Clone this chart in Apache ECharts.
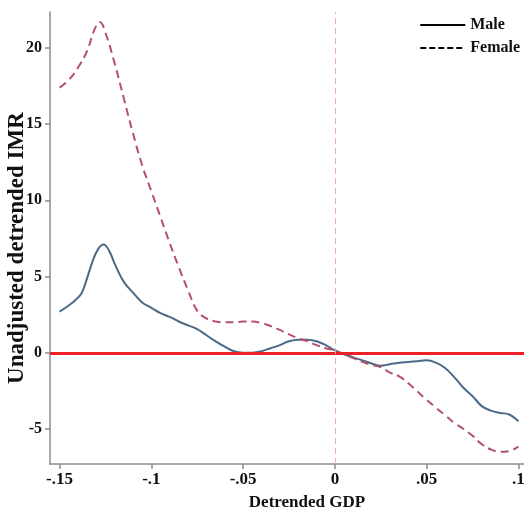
<!DOCTYPE html>
<html>
<head>
<meta charset="utf-8">
<script src="https://cdn.jsdelivr.net/npm/echarts@6/dist/echarts.min.js"></script>
<style>
  html, body { margin: 0; padding: 0; background: #fff; }
  #chart { width: 524px; height: 523px; }
</style>
</head>
<body>
<div id="chart"></div>
<script>
// 数据
var maleX = [-0.150, -0.145, -0.141, -0.138, -0.135, -0.132, -0.129, -0.126, -0.123, -0.120,
             -0.115, -0.110, -0.105, -0.100, -0.095, -0.090, -0.085, -0.080, -0.075, -0.070,
             -0.065, -0.060, -0.055, -0.050, -0.045, -0.040, -0.035, -0.030, -0.025, -0.020,
             -0.015, -0.010, -0.005, 0.000, 0.005, 0.010, 0.015, 0.020, 0.025, 0.030,
             0.035, 0.040, 0.045, 0.050, 0.055, 0.060, 0.065, 0.070, 0.075, 0.080,
             0.085, 0.090, 0.095, 0.100];
var maleY = [2.7, 3.1, 3.5, 3.9, 4.9, 6.0, 6.8, 7.1, 6.7, 5.85,
             4.65, 3.95, 3.3, 2.95, 2.6, 2.35, 2.05, 1.8, 1.55, 1.15,
             0.75, 0.4, 0.1, 0.0, 0.0, 0.1, 0.3, 0.5, 0.75, 0.85,
             0.85, 0.75, 0.5, 0.15, -0.1, -0.3, -0.5, -0.7, -0.85, -0.75,
             -0.65, -0.6, -0.55, -0.5, -0.65, -1.0, -1.6, -2.3, -2.85, -3.5,
             -3.8, -3.95, -4.05, -4.5];

var femaleX = [-0.150, -0.145, -0.140, -0.135, -0.131, -0.128, -0.125, -0.120, -0.115, -0.110,
               -0.105, -0.100, -0.095, -0.090, -0.085, -0.080, -0.075, -0.070, -0.065, -0.060,
               -0.055, -0.050, -0.045, -0.040, -0.035, -0.030, -0.025, -0.020, -0.015, -0.010,
               -0.005, 0.000, 0.005, 0.010, 0.015, 0.020, 0.025, 0.030, 0.035, 0.040,
               0.045, 0.050, 0.055, 0.060, 0.065, 0.070, 0.075, 0.080, 0.085, 0.090,
               0.095, 0.100];
var femaleY = [17.4, 17.9, 18.7, 19.8, 21.2, 21.7, 21.0, 19.0, 16.7, 14.4,
               12.3, 10.6, 8.9, 7.2, 5.6, 4.1, 2.75, 2.25, 2.05, 2.0,
               2.0, 2.05, 2.05, 1.95, 1.75, 1.5, 1.2, 0.95, 0.75, 0.5,
               0.3, 0.15, -0.1, -0.35, -0.6, -0.8, -0.95, -1.3, -1.55, -2.0,
               -2.55, -3.1, -3.6, -4.1, -4.6, -5.0, -5.45, -6.0, -6.35, -6.5,
               -6.45, -6.15];

var xTicks = [-0.15, -0.1, -0.05, 0, 0.05, 0.1];
var yTicks = [-5, 0, 5, 10, 15, 20];

function pairs(xs, ys) {
    return xs.map(function (x, i) { return [x, ys[i]]; });
}

var font = 'Liberation Serif';
var axisGray = '#8c8c8c';
var noDot = { color: 'rgba(0,0,0,0)', borderWidth: 0, opacity: 0 };

var chart = echarts.init(document.getElementById('chart'));

var option = {
    animation: false,
    backgroundColor: '#fff',
    grid: { left: 50, right: 0, top: 12, bottom: 59, outerBoundsMode: 'none', containLabel: false },
    legend: {
        orient: 'vertical',
        right: 0,
        top: 12,
        padding: [5, 4, 5, 5],
        itemWidth: 45,
        itemHeight: 14,
        itemGap: 7,
        textStyle: { fontFamily: font, fontWeight: 'bold', fontSize: 16, color: '#111' },
        data: [
            { name: 'Male', lineStyle: { color: '#000', width: 2, type: 'solid' }, itemStyle: noDot },
            { name: 'Female', lineStyle: { color: '#000', width: 2, type: [6, 3] }, itemStyle: noDot }
        ]
    },
    xAxis: {
        type: 'value',
        min: -0.1552,
        max: 0.103,
        name: 'Detrended GDP',
        nameLocation: 'middle',
        nameGap: 30,
        nameMoveOverlap: false,
        nameTextStyle: { fontFamily: font, fontWeight: 'bold', fontSize: 17, color: '#111', padding: [0, 0, 0, 40] },
        axisLine: { show: true, onZero: false, lineStyle: { color: axisGray, width: 1.5 } },
        axisTick: { show: true, length: 5, lineStyle: { color: axisGray, width: 1.5 }, customValues: xTicks },
        axisLabel: {
            customValues: xTicks,
            margin: 7,
            fontFamily: font, fontWeight: 'bold', fontSize: 17, color: '#111',
            formatter: function (v) { return String(v).replace('0.', '.'); }
        },
        splitLine: { show: false }
    },
    yAxis: {
        type: 'value',
        min: -7.3,
        max: 22.36,
        name: 'Unadjusted detrended IMR',
        nameLocation: 'middle',
        nameRotate: 90,
        nameGap: 21,
        nameMoveOverlap: false,
        nameTextStyle: { fontFamily: font, fontWeight: 'bold', fontSize: 23, color: '#111', padding: [0, 20, 0, 0] },
        axisLine: { show: true, onZero: false, lineStyle: { color: axisGray, width: 1.5 } },
        axisTick: { show: true, length: 5, lineStyle: { color: axisGray, width: 1.5 }, customValues: yTicks },
        axisLabel: {
            customValues: yTicks,
            margin: 8,
            fontFamily: font, fontWeight: 'bold', fontSize: 16, color: '#111'
        },
        splitLine: { show: false }
    },
    series: [
        {
            name: 'ref',
            type: 'line',
            data: [],
            z: 1,
            silent: true,
            markLine: {
                silent: true,
                symbol: 'none',
                label: { show: false },
                data: [
                    { yAxis: 0, lineStyle: { color: '#ec2127', width: 3, type: 'solid' } },
                    { xAxis: 0, lineStyle: { color: '#f0aab6', width: 1, type: [6, 4] } }
                ]
            }
        },
        {
            name: 'Male',
            type: 'line',
            data: pairs(maleX, maleY),
            smooth: 0.4,
            symbol: 'none',
            z: 3,
            lineStyle: { color: '#4b6987', width: 2 },
            itemStyle: { color: '#4b6987' }
        },
        {
            name: 'Female',
            type: 'line',
            data: pairs(femaleX, femaleY),
            smooth: 0.4,
            symbol: 'none',
            z: 3,
            lineStyle: { color: '#b5506a', width: 2, type: [8, 5] },
            itemStyle: { color: '#b5506a' }
        }
    ]
};

chart.setOption(option);
</script>
</body>
</html>
